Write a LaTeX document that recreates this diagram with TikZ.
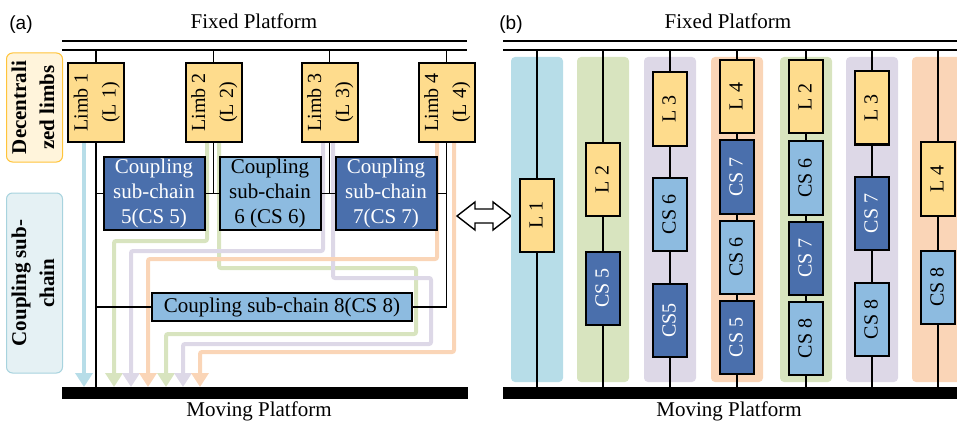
\documentclass[tikz,border=0pt]{standalone}
\usepackage{fontspec}
\setmainfont{Liberation Serif}
\newfontfamily\labfont{Liberation Sans}
\usepackage{tikz}
\usetikzlibrary{arrows.meta}
\usetikzlibrary{backgrounds}

\definecolor{limbY}{HTML}{FEDC8D}
\definecolor{csD}{HTML}{4A6FAC}
\definecolor{csL}{HTML}{8DBBE0}
\definecolor{bandB}{HTML}{B7DDE8}
\definecolor{bandG}{HTML}{D8E4BF}
\definecolor{bandP}{HTML}{DDD8E7}
\definecolor{bandO}{HTML}{FAD5B7}
\definecolor{tagYfill}{HTML}{FFF4DB}
\definecolor{tagYdraw}{HTML}{FFC43A}
\definecolor{tagCfill}{HTML}{E5F1F4}
\definecolor{tagCdraw}{HTML}{A7D3DE}
\newcommand{\vtext}[1]{\rotatebox{90}{\begin{tabular}{@{}c@{}}#1\end{tabular}}}
\renewcommand{\arraystretch}{1.12}

\begin{document}
\begin{tikzpicture}[x=1pt,y=1pt,
  > = {Triangle[width=17pt,length=14pt]},
  every node/.style={font=\fontsize{20}{25}\selectfont},
  link/.style={line width=1.4pt},
  flow/.style={line width=4pt,->,rounded corners=2pt},
  limb/.style={draw,line width=2pt,fill=limbY,inner sep=0pt,minimum width=52pt,minimum height=79pt},
  csbox/.style={draw,line width=2pt,inner sep=0pt,minimum width=101pt,minimum height=73pt,align=center,font=\fontsize{21}{25}\selectfont},
  csdark/.style={csbox,fill=csD,text=white},
  cslight/.style={csbox,fill=csL},
  rbox/.style={draw,line width=2pt,inner sep=0pt,minimum width=34pt,minimum height=73pt},
  rlimb/.style={rbox,fill=limbY},
  rdark/.style={rbox,fill=csD,text=white},
  rlight/.style={rbox,fill=csL},
  platform/.style={fill=black,inner sep=0pt,minimum height=12pt},
  title/.style={anchor=base,font=\fontsize{21}{25}\selectfont},
  panel/.style={anchor=base,font=\labfont\fontsize{19}{23}\selectfont},
  tag/.style={line width=1pt,rounded corners=6pt,inner sep=0pt,minimum width=53pt,font=\bfseries\fontsize{21}{25}\selectfont}
  ]
  \useasboundingbox (0,0) rectangle (957,421);

  % (a) coupled structure
  \node[panel] (pa) at (21,391) {(a)};
  \node[title] (fpAtxt) at (254,392) {Fixed Platform};
  \coordinate (fpA) at (62,371);
  \draw[link] (62,380) -- (467,380) (fpA) -- (467,371);
  \node[platform,minimum width=406pt] (mpA) at (265,28) {};
  \node[title] (mpAtxt) at (259,4.5) {Moving Platform};

  \node[tag,draw=tagYdraw,fill=tagYfill,minimum height=109pt] (tagL) at (34.5,313.5) {\vtext{Decentrali\\zed limbs}};
  \node[tag,draw=tagCdraw,fill=tagCfill,minimum height=180pt] (tagC) at (34.5,138) {\vtext{Coupling sub-\\chain}};

  \node[limb] (L1) at (96,318.5) {\vtext{Limb 1\\(L 1)}};
  \node[limb] (L2) at (213.5,318.5) {\vtext{Limb 2\\(L 2)}};
  \node[limb] (L3) at (329.5,318.5) {\vtext{Limb 3\\(L 3)}};
  \node[limb] (L4) at (446.5,318.5) {\vtext{Limb 4\\(L 4)}};

  \node[csdark] (CS5) at (154,227.5) {Coupling\\sub-chain\\5(CS 5)};
  \node[cslight] (CS6) at (270,227.5) {Coupling\\sub-chain\\6 (CS 6)};
  \node[csdark] (CS7) at (386,227.5) {Coupling\\sub-chain\\7(CS 7)};
  \node[cslight,minimum width=260pt,minimum height=28pt] (CS8) at (282,114) {Coupling sub-chain 8(CS 8)};

  \foreach \n/\x in {1/84,2/114,3/131,4/148,5/166,6/183,7/200}
    \coordinate (t\n) at (\x,34);

  \begin{scope}[on background layer]
    \draw[flow,draw=bandB] ([xshift=-12pt]L1.south) -- (t1);
    \draw[flow,draw=bandG] ([xshift=-6.5pt]L2.south) -- ++(0,-98) -| (t2);
    \draw[flow,draw=bandG] ([xshift=5.5pt]L2.south) -- ++(0,-125) -- ++(197,0) -- ++(0,-66) -| (t5);
    \draw[flow,draw=bandP] ([xshift=-6.5pt]L3.south) -- ++(0,-108) -| (t3);
    \draw[flow,draw=bandP] ([xshift=3.5pt]L3.south) -- ++(0,-135) -- ++(98,0) -- ++(0,-66) -| (t6);
    \draw[flow,draw=bandO] ([xshift=-9.5pt]L4.south) -- ++(0,-116) -| (t4);
    \draw[flow,draw=bandO] ([xshift=7.5pt]L4.south) -- ++(0,-209) -| (t7);
  \end{scope}

  \foreach \l in {L1,L2,L3,L4}
    \draw[link] (\l.north |- fpA) -- (\l.north);
  \draw[link] (L1.south) -- (L1.south |- mpA.north);
  \draw[link] (L1.south |- CS5.west) -- (CS5.west);
  \draw[link] (L1.south |- CS8.west) -- (CS8.west);
  \draw[link] (L2.south) -- (L2.south |- CS5.east);
  \draw[link] (L3.south) -- (L3.south |- CS6.east);
  \draw[link] (CS5.east) -- (CS6.west);
  \draw[link] (CS6.east) -- (CS7.west);
  \draw[link] (CS7.east) -- (L4.south |- CS7.east);
  \draw[link] (L4.south) |- (CS8.east);

  % equivalence arrow
  \draw[line width=1.4pt,fill=white] (457,205) -- (475,219) -- (475,212) -- (493,212) -- (493,219) -- (511,205)
    -- (493,191) -- (493,198) -- (475,198) -- (475,191) -- cycle;

  % (b) decoupled branches
  \foreach \x/\c in {537/bandB,603/bandG,670/bandP,737/bandO,806/bandG,872/bandP,938/bandO}
    \fill[\c,rounded corners=4pt] (\x-26,39) rectangle (\x+26,364);
  \node[panel] (pb) at (511,391) {(b)};
  \node[title] (fpBtxt) at (728,392) {Fixed Platform};
  \coordinate (fpB) at (503,371);
  \draw[link] (503,380) -- (957,380) (fpB) -- (957,371);
  \node[platform,minimum width=454pt] (mpB) at (730,28) {};
  \node[title] (mpBtxt) at (729,4.5) {Moving Platform};

  \node[rlimb] (r1a) at (537,206) {\vtext{L 1}};

  \node[rlimb] (r2a) at (603,241.5) {\vtext{L 2}};
  \node[rdark] (r2b) at (603,133) {\vtext{CS 5}};

  \node[rlimb] (r3a) at (670,312) {\vtext{L 3}};
  \node[rlight] (r3b) at (670,206.5) {\vtext{CS 6}};
  \node[rdark] (r3c) at (670,100.5) {\vtext{CS5}};

  \node[rlimb] (r4a) at (737,324.5) {\vtext{L 4}};
  \node[rdark] (r4b) at (737,244) {\vtext{CS 7}};
  \node[rlight] (r4c) at (737,164) {\vtext{CS 6}};
  \node[rdark] (r4d) at (737,83.5) {\vtext{CS 5}};

  \node[rlimb] (r5a) at (806,324) {\vtext{L 2}};
  \node[rlight] (r5b) at (806,243) {\vtext{CS 6}};
  \node[rdark] (r5c) at (806,163) {\vtext{CS 7}};
  \node[rlight] (r5d) at (806,82.5) {\vtext{CS 8}};

  \node[rlimb] (r6a) at (872,313) {\vtext{L 3}};
  \node[rdark] (r6b) at (872,207.5) {\vtext{CS 7}};
  \node[rlight] (r6c) at (872,101.5) {\vtext{CS 8}};

  \node[rlimb] (r7a) at (938,242) {\vtext{L 4}};
  \node[rlight] (r7b) at (938,134) {\vtext{CS 8}};

  \draw[link] (r1a.north |- fpB) -- (r1a.north) (r1a.south) -- (r1a.south |- mpB.north);
  \draw[link] (r2a.north |- fpB) -- (r2a.north) (r2a.south) -- (r2b.north) (r2b.south) -- (r2b.south |- mpB.north);
  \draw[link] (r3a.north |- fpB) -- (r3a.north) (r3a.south) -- (r3b.north) (r3b.south) -- (r3c.north)
    (r3c.south) -- (r3c.south |- mpB.north);
  \draw[link] (r4a.north |- fpB) -- (r4a.north) (r4a.south) -- (r4b.north) (r4b.south) -- (r4c.north)
    (r4c.south) -- (r4d.north) (r4d.south) -- (r4d.south |- mpB.north);
  \draw[link] (r5a.north |- fpB) -- (r5a.north) (r5a.south) -- (r5b.north) (r5b.south) -- (r5c.north)
    (r5c.south) -- (r5d.north) (r5d.south) -- (r5d.south |- mpB.north);
  \draw[link] (r6a.north |- fpB) -- (r6a.north) (r6a.south) -- (r6b.north) (r6b.south) -- (r6c.north)
    (r6c.south) -- (r6c.south |- mpB.north);
  \draw[link] (r7a.north |- fpB) -- (r7a.north) (r7a.south) -- (r7b.north) (r7b.south) -- (r7b.south |- mpB.north);

\end{tikzpicture}
\end{document}
